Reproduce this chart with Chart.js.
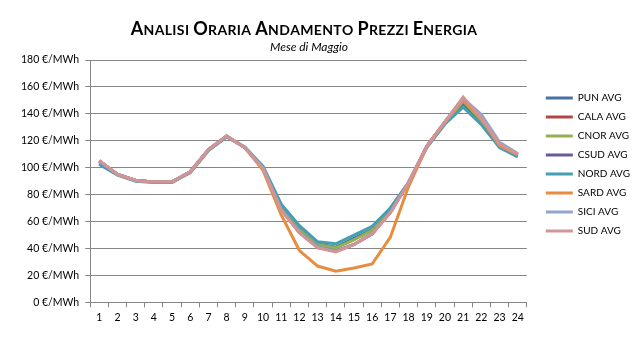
<!DOCTYPE html>
<html>
<head>
<meta charset="utf-8">
<script src="https://cdn.jsdelivr.net/npm/chart.js@4.4.1/dist/chart.umd.min.js"></script>
<style>
  html, body { margin: 0; padding: 0; background: #fff; }
  #wrap { width: 633px; height: 344px; position: relative; }
</style>
</head>
<body>
<div id="wrap"><canvas id="prezzi"></canvas></div>
<script>
const hours = ['1','2','3','4','5','6','7','8','9','10','11','12','13','14','15','16','17','18','19','20','21','22','23','24'];

const pun  = [103.5, 95, 90.5, 89.5, 89.5, 96.5, 113, 123, 115, 100, 70, 55, 43.5, 41, 47.5, 54, 70, 89, 115.5, 133, 147, 134, 116, 109];
const cala = [105, 95, 90.5, 89.5, 89.5, 97, 113.5, 123.5, 115, 99.5, 69, 52, 41, 38, 43, 51, 67, 89, 116, 134, 151, 137, 117, 110];
const cnor = [104, 95, 90.5, 89.5, 89.5, 96.5, 113, 123, 115, 100, 70, 54, 43, 40.5, 46.5, 53.5, 69.5, 89, 115.5, 133, 149.5, 135, 116.5, 109.5];
const csud = [105, 95, 90.5, 89.5, 89.5, 97, 113.5, 123.5, 115, 99.5, 69, 52, 41, 38, 43, 51, 67, 89, 116, 134, 151.5, 137, 117.5, 110];
const nord = [102.5, 94.5, 90, 89, 89, 96.5, 113, 123, 115.5, 101, 73, 57, 45, 43.5, 50, 56.5, 70, 89, 115, 132.5, 145, 132, 115, 108];
const sard = [105, 95, 90.5, 89.5, 89.5, 97, 113.5, 123.5, 115, 98, 65, 38.5, 27, 23.2, 25.5, 28.5, 48.5, 86, 115.5, 133.5, 150, 136, 116.5, 109.5];
const sici = [105, 95, 90.5, 89.5, 89.5, 97, 113.5, 123.5, 115, 99.5, 69, 52, 41, 38, 43, 51, 67, 89, 116, 134, 151.5, 139.5, 119, 110.5];
const sud  = [105.5, 95, 90.5, 89.5, 89.5, 97, 113.5, 123.5, 115, 99.5, 68.5, 51.5, 40.5, 37.5, 43, 51, 66.5, 89, 116, 134, 152.5, 137, 117.5, 110];

const yTicks = [0, 20, 40, 60, 80, 100, 120, 140, 160, 180];

const titleText = 'Analisi Oraria Andamento Prezzi Energia';
const subtitleText = 'Mese di Maggio';
const fontName = 'Lato, "Open Sans", sans-serif';

const series = [
  { label: 'PUN AVG',  data: pun,  color: 'rgb(74,112,168)' },
  { label: 'CALA AVG', data: cala, color: 'rgb(178,72,70)' },
  { label: 'CNOR AVG', data: cnor, color: 'rgb(147,176,84)' },
  { label: 'CSUD AVG', data: csud, color: 'rgb(112,88,150)' },
  { label: 'NORD AVG', data: nord, color: 'rgb(68,158,180)' },
  { label: 'SARD AVG', data: sard, color: 'rgb(232,140,64)' },
  { label: 'SICI AVG', data: sici, color: 'rgb(143,167,204)' },
  { label: 'SUD AVG',  data: sud,  color: 'rgb(210,148,150)' },
];

// small caps title drawn straight on the canvas
const smallCapsTitle = {
  id: 'smallCapsTitle',
  afterDraw(chart) {
    const ctx = chart.ctx;
    const big = 'bold 18px ' + fontName;
    const small = 'bold 14px ' + fontName;
    const gap = 0.35;
    const parts = [];
    for (const ch of titleText) {
      const up = ch === ch.toUpperCase() && ch !== ' ';
      parts.push({ t: ch.toUpperCase(), f: up ? big : small });
    }
    ctx.save();
    let w = 0;
    parts.forEach(p => { ctx.font = p.f; p.w = ctx.measureText(p.t).width + gap; w += p.w; });
    let x = 304 - w / 2;
    ctx.fillStyle = '#000';
    ctx.textBaseline = 'alphabetic';
    parts.forEach(p => { ctx.font = p.f; ctx.fillText(p.t, x, 35); x += p.w; });
    ctx.font = 'italic 12px ' + fontName;
    ctx.textAlign = 'center';
    ctx.fillText(subtitleText, 309, 51);
    ctx.restore();
  }
};

// nudge the legend block away from the plot and up, like the original
const legendNudge = {
  id: 'legendNudge',
  afterLayout(chart) {
    const lg = chart.legend;
    const h = lg.bottom - lg.top;
    lg.left += 10;
    lg.right += 10;
    lg.top = 84;
    lg.bottom = 84 + h;
  }
};

const chart = new Chart(document.getElementById('prezzi').getContext('2d'), {
  type: 'line',
  data: {
    labels: hours,
    datasets: series.map((s, i) => ({
      label: s.label,
      data: s.data,
      borderColor: s.color,
      backgroundColor: s.color,
      borderWidth: 3,
      pointRadius: 0,
      tension: 0,
      order: series.length - i,
    })),
  },
  options: {
    responsive: true,
    maintainAspectRatio: false,
    animation: false,
    layout: { padding: { top: 60, left: 15, right: 3, bottom: 16 } },
    plugins: {
      title: { display: false },
      tooltip: { enabled: false },
      legend: {
        position: 'right',
        align: 'start',
        labels: {
          usePointStyle: true,
          pointStyle: 'line',
          pointStyleWidth: 27,
          boxHeight: 10,
          padding: 9,
          color: '#000',
          font: { family: fontName, size: 10 },
          sort: (a, b) => a.datasetIndex - b.datasetIndex,
        },
      },
    },
    scales: {
      x: {
        offset: true,
        grid: {
          offset: true,
          drawOnChartArea: false,
          drawTicks: true,
          tickLength: 5,
          color: '#868686',
        },
        border: { color: '#868686', width: 1 },
        ticks: {
          color: '#000',
          font: { family: fontName, size: 10.5 },
          maxRotation: 0,
          autoSkip: false,
          padding: 4,
        },
      },
      y: {
        min: yTicks[0],
        max: yTicks[yTicks.length - 1],
        afterBuildTicks: (axis) => { axis.ticks = yTicks.map(v => ({ value: v })); },
        grid: { color: '#868686', tickLength: 5 },
        border: { color: '#868686', width: 1 },
        ticks: {
          color: '#000',
          font: { family: fontName, size: 10.5 },
          padding: 6,
          callback: (v) => v + ' €/MWh',
        },
      },
    },
  },
  plugins: [smallCapsTitle, legendNudge],
});
</script>
</body>
</html>
